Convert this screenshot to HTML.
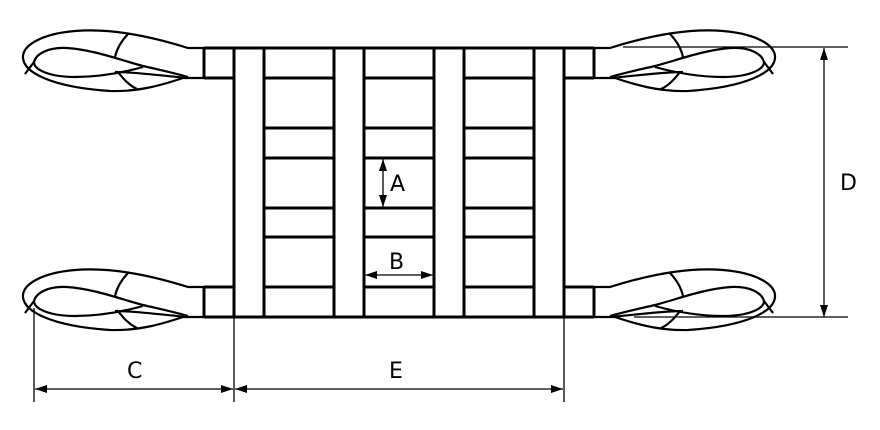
<!DOCTYPE html>
<html><head><meta charset="utf-8"><style>
html,body{margin:0;padding:0;background:#fff;}
svg{display:block;}
text{font-family:"DejaVu Sans","Liberation Sans",sans-serif;font-size:22px;fill:#000;}
</style></head><body>
<svg width="880" height="430" viewBox="0 0 880 430" xmlns="http://www.w3.org/2000/svg">
<defs>
<g id="loop" fill="none" stroke="#000" stroke-width="2.2">
  <path d="M204,48 L188,48 C150,36 110,28 75,31 C40,34 22,46 23,58 C24,72 50,87 110,91 C140,92 165,84 183,78 L204,78"/>
  <path d="M188,77 C170,72 160,70 143,66 C120,60 95,50 67,48 C48,47 36,54 34,62 C34,70 50,77 75,77 C100,77 125,72 143,67"/>
  <path d="M187,78 C165,76 135,72 115,72"/>
  <path d="M34,62 L25,74"/>
  <path d="M129,33 C122,40 117,48 115,57"/>
  <path d="M118,72 C124,80 130,86 137,89"/>
</g>
<marker id="ar" viewBox="0 0 12 8" refX="12" refY="4" markerWidth="12" markerHeight="8" orient="auto-start-reverse" markerUnits="userSpaceOnUse">
  <path d="M0,0 L12,4 L0,8 z" fill="#000"/>
</marker>
<g id="rungs" stroke="#000" stroke-width="3">
  <line x1="264" y1="78" x2="334" y2="78"/>
  <line x1="264" y1="128" x2="334" y2="128"/>
  <line x1="264" y1="158" x2="334" y2="158"/>
  <line x1="264" y1="208" x2="334" y2="208"/>
  <line x1="264" y1="237" x2="334" y2="237"/>
  <line x1="264" y1="287" x2="334" y2="287"/>
</g>
</defs>
<use href="#loop"/>
<use href="#loop" transform="translate(0,239)"/>
<use href="#loop" transform="translate(798,0) scale(-1,1)"/>
<use href="#loop" transform="translate(798,239) scale(-1,1)"/>
<use href="#rungs"/>
<use href="#rungs" transform="translate(100,0)"/>
<use href="#rungs" transform="translate(200,0)"/>
<g stroke="#000" stroke-width="3" fill="none">
  <line x1="204" y1="48" x2="594" y2="48"/>
  <line x1="204" y1="317" x2="594" y2="317"/>
  <line x1="204" y1="78" x2="234" y2="78"/>
  <line x1="204" y1="287" x2="234" y2="287"/>
  <line x1="564" y1="78" x2="594" y2="78"/>
  <line x1="564" y1="287" x2="594" y2="287"/>
  <line x1="204" y1="48" x2="204" y2="78"/>
  <line x1="204" y1="287" x2="204" y2="317"/>
  <line x1="594" y1="48" x2="594" y2="78"/>
  <line x1="594" y1="287" x2="594" y2="317"/>
  <line x1="234" y1="48" x2="234" y2="317"/>
  <line x1="264" y1="48" x2="264" y2="317"/>
  <line x1="334" y1="48" x2="334" y2="317"/>
  <line x1="364" y1="48" x2="364" y2="317"/>
  <line x1="434" y1="48" x2="434" y2="317"/>
  <line x1="464" y1="48" x2="464" y2="317"/>
  <line x1="534" y1="48" x2="534" y2="317"/>
  <line x1="564" y1="48" x2="564" y2="317"/>
</g>
<g stroke="#000" stroke-width="1.3" fill="none">
  <line x1="623" y1="47" x2="848" y2="47"/>
  <line x1="634" y1="317" x2="848" y2="317"/>
  <line x1="824" y1="48" x2="824" y2="317" marker-start="url(#ar)" marker-end="url(#ar)"/>
  <line x1="34" y1="308" x2="34" y2="402"/>
  <line x1="234" y1="318" x2="234" y2="402"/>
  <line x1="564" y1="318" x2="564" y2="402"/>
  <line x1="35" y1="389" x2="233" y2="389" marker-start="url(#ar)" marker-end="url(#ar)"/>
  <line x1="235" y1="389" x2="563" y2="389" marker-start="url(#ar)" marker-end="url(#ar)"/>
  <line x1="383" y1="159" x2="383" y2="207" marker-start="url(#ar)" marker-end="url(#ar)"/>
  <line x1="365" y1="275" x2="433" y2="275" marker-start="url(#ar)" marker-end="url(#ar)"/>
</g>
<text x="390" y="191">A</text>
<text x="389" y="269">B</text>
<text x="127" y="378">C</text>
<text x="840" y="190">D</text>
<text x="389" y="378">E</text>
</svg>
</body></html>
